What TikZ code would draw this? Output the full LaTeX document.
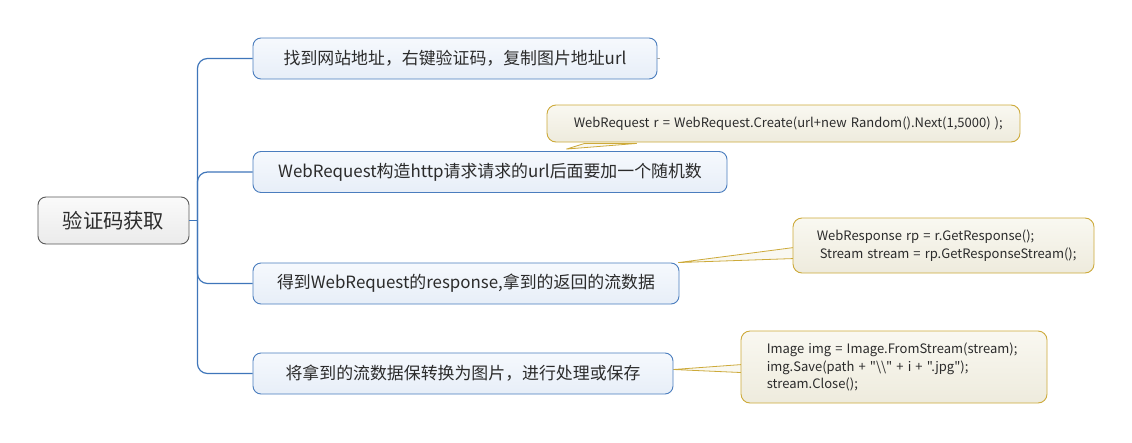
\documentclass[tikz,border=0pt]{standalone}
\usepackage{fontspec}
\setmainfont{Noto Sans CJK SC}
\newfontfamily\codefont{Noto Sans CJK SC}
\newcommand\codestyleA{\codefont\fontsize{13}{18}\selectfont\spaceskip 4.1pt\relax}
\newcommand\codestyleB{\codefont\fontsize{13}{17.5}\selectfont\spaceskip 4.1pt\relax}
\usetikzlibrary{calc}
\pgfdeclarelayer{back}
\pgfdeclarelayer{bg}
\pgfsetlayers{back,bg,main}
\definecolor{branchblue}{HTML}{3F76BA}
\definecolor{nodeborder}{HTML}{4A7DBE}
\definecolor{nodetop}{HTML}{F6F9FD}
\definecolor{nodebot}{HTML}{E7EEF8}
\definecolor{rootborder}{HTML}{5A5A5A}
\definecolor{roottop}{HTML}{FAFAFA}
\definecolor{rootbot}{HTML}{EBEBEB}
\definecolor{noteborder}{HTML}{CDAA3A}
\definecolor{notetop}{HTML}{F9F8F1}
\definecolor{notebot}{HTML}{EEEBDD}
\definecolor{txt}{HTML}{2B2B2B}
\tikzset{
  rootbox/.style={draw=rootborder, line width=0.9pt, rounded corners=8pt,
    top color=roottop, bottom color=rootbot, text=txt,
    minimum width=151pt, minimum height=47pt, inner sep=0pt,
    font=\fontsize{20.3}{23}\selectfont},
  topicbox/.style={draw=nodeborder, line width=0.9pt, rounded corners=8pt,
    top color=nodetop, bottom color=nodebot, text=txt,
    minimum height=41pt, inner sep=0pt,
    font=\fontsize{16.9}{20}\selectfont},
  notebox/.style={draw=noteborder, line width=0.9pt, rounded corners=9pt,
    top color=notetop, bottom color=notebot, inner sep=0pt},
  notetext/.style={anchor=west, align=left, inner sep=0pt, text=txt,
    font=\codestyleA},
  pointer/.style={draw=noteborder, line width=0.8pt, fill=notetop, line join=round},
  branch/.style={draw=branchblue, line width=1.2pt, rounded corners=10pt},
}
\begin{document}
\begin{tikzpicture}[x=1pt,y=-1pt]
\useasboundingbox (0,0) rectangle (1132,442);
\begin{pgfonlayer}{back}
\fill[white] (0,0) rectangle (1132,442);
\end{pgfonlayer}

\node[rootbox] (root) at (113.5,220.5) {验证码获取};
\node[topicbox, minimum width=404pt] (n1) at (455,58.5) {找到网站地址，右键验证码，复制图片地址url};
\node[topicbox, minimum width=474pt] (n2) at (490,172) {WebRequest构造http请求请求的url后面要加一个随机数};
\node[topicbox, minimum width=426pt] (n3) at (466,283.5) {得到WebRequest的response,拿到的返回的流数据};
\node[topicbox, minimum width=420pt] (n4) at (463,373.5) {将拿到的流数据保转换为图片，进行处理或保存};

\coordinate (trunk) at ($(root.east)+(8,0)$);
\draw[branch] (root.east) -- (trunk);
\draw[branch] (trunk) |- (n1.west);
\draw[branch] (trunk) |- (n2.west);
\draw[branch] (trunk) |- (n3.west);
\draw[branch] (trunk) |- (n4.west);
\draw[gray!70, line width=0.6pt] (n1.east) -- ++(3,0);

\node[notebox, minimum width=473pt, minimum height=37pt] (c1) at (783.5,123.5) {};
\node[notetext] (c1t) at ($(c1.west)+(27,0)$)
  {WebRequest r = WebRequest.Create(url+new Random().Next(1,5000) );};
\node[notebox, minimum width=301pt, minimum height=55pt] (c2) at (943.5,245.5) {};
\node[notetext] (c2t) at ($(c2.west)+(24,0)$)
  {WebResponse rp = r.GetResponse();\\\hspace*{3pt}Stream stream = rp.GetResponseStream();};
\node[notebox, minimum width=306pt, minimum height=72pt] (c3) at (894,367) {};
\node[notetext, font=\codestyleB] (c3t) at ($(c3.west)+(26,0)$)
  {Image img = Image.FromStream(stream);\\img.Save(path + "\textbackslash\textbackslash" + i + ".jpg");\\stream.Close();};

\coordinate (t1) at ($(n2.north west)+(314,-2)$);
\coordinate (t2) at ($(n3.north east)+(-1,0)$);
\coordinate (t3) at ($(n4.east)+(0,-4)$);
\begin{pgfonlayer}{bg}
\draw[pointer] (t1) -- ($(c1.south west)+(38,1)$) -- ($(c1.south west)+(90,1)$) -- cycle;
\draw[pointer] (t2) -- ($(c2.north west)+(1,30)$) -- ($(c2.north west)+(1,41)$) -- cycle;
\draw[pointer] (t3) -- ($(c3.north west)+(1,34)$) -- ($(c3.north west)+(1,42)$) -- cycle;
\end{pgfonlayer}
\end{tikzpicture}
\end{document}
